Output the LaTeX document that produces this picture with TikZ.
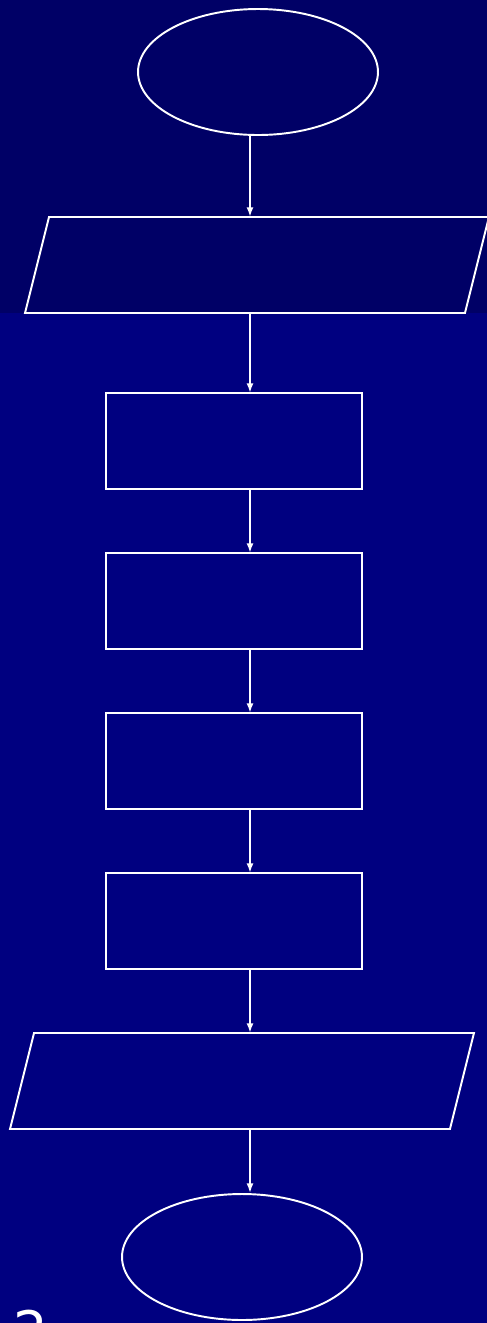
\documentclass[tikz,border=0pt]{standalone}
\usepackage{fontspec}
\setmainfont{DejaVu Sans}
\usetikzlibrary{shapes.geometric,arrows.meta}
\definecolor{bandtop}{RGB}{0,0,102}
\definecolor{bandlow}{RGB}{0,0,128}

\begin{document}
\begin{tikzpicture}[x=0.02cm, y=0.02cm,
  flow/.style={white, line width=1.1pt, -{Latex[length=5.5pt,width=4pt]}},
  term/.style={ellipse, draw=white, line width=1.1pt, minimum width=4.8cm, minimum height=2.52cm, inner sep=0pt},
  io/.style={rectangle, minimum width=8.8cm, minimum height=1.92cm, inner sep=0pt, outer sep=0pt},
  slant/.style={white, line width=1.1pt, line join=miter},
  proc/.style={rectangle, draw=white, line width=1.1pt, minimum width=5.12cm, minimum height=1.92cm, inner sep=0pt, outer sep=0pt}]
% background bands
\useasboundingbox (0,0) rectangle (487,-1323);
\fill[bandtop] (0,0) rectangle (487,-313);
\fill[bandlow] (0,-313) rectangle (487,-1323);
% shapes
\node[term] (start) at (258,-72){};
\node[io] (in1) at (257,-265){};
\draw[slant] ([xshift=0.24cm]in1.north west) -- ([xshift=0.24cm]in1.north east)
  -- ([xshift=-0.24cm]in1.south east) -- ([xshift=-0.24cm]in1.south west) -- cycle;
\node[proc] (box1) at (234,-441){};
\node[proc] (box2) at (234,-601){};
\node[proc] (box3) at (234,-761){};
\node[proc] (box4) at (234,-921){};
\node[io] (out1) at (242,-1081){};
\draw[slant] ([xshift=0.24cm]out1.north west) -- ([xshift=0.24cm]out1.north east)
  -- ([xshift=-0.24cm]out1.south east) -- ([xshift=-0.24cm]out1.south west) -- cycle;
\node[term] (stop) at (242,-1257){};
\coordinate (ax) at (250,0);
% arrows
\draw[flow] (start.south -| ax) -- (in1.north -| ax);
\draw[flow] (in1.south -| ax) -- (box1.north -| ax);
\draw[flow] (box1.south -| ax) -- (box2.north -| ax);
\draw[flow] (box2.south -| ax) -- (box3.north -| ax);
\draw[flow] (box3.south -| ax) -- (box4.north -| ax);
\draw[flow] (box4.south -| ax) -- (out1.north -| ax);
\draw[flow] (out1.south -| ax) -- (stop.north -| ax);
% page number
\node[white, anchor=base west, inner sep=0pt, font=\fontsize{31}{31}\selectfont] (pnum) at (13,-1350){2};
\end{tikzpicture}
\end{document}
